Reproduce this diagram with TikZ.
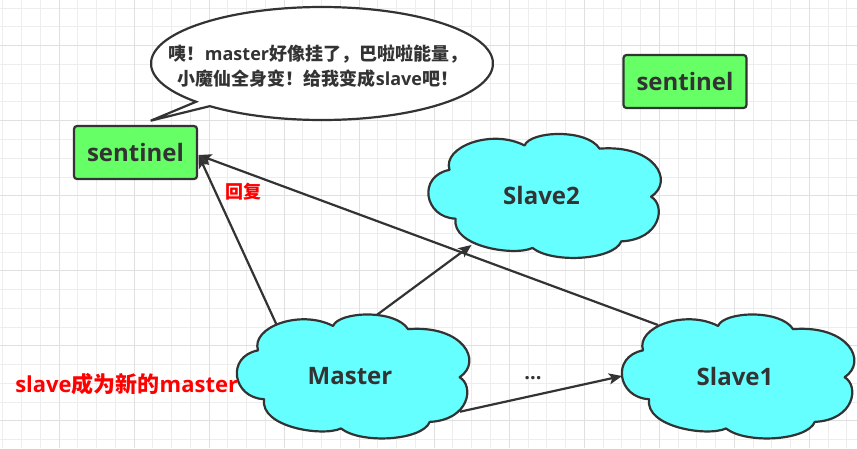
\documentclass[tikz,border=0pt]{standalone}
\usepackage{fontspec}
\setmainfont{Open Sans}
\newfontfamily\cjk{Noto Sans CJK SC}
\usetikzlibrary{calc,arrows.meta,shapes.geometric,backgrounds}
\definecolor{ink}{HTML}{333333}
\definecolor{sgreen}{HTML}{66FF66}
\definecolor{scyan}{HTML}{66FFFF}
\definecolor{gminor}{HTML}{EDEDED}
\definecolor{gmajor}{HTML}{E0E0E0}
\definecolor{lblred}{HTML}{FF0000}
\tikzset{
  sentbox/.style={rectangle, rounded corners=3pt, fill=sgreen, draw=ink, line width=2.2pt,
    minimum width=123pt, minimum height=53pt, inner sep=0pt, outer sep=0pt,
    text=ink, font=\bfseries\fontsize{24}{28}\selectfont},
  cloudnode/.style={ellipse, minimum width=226pt, minimum height=122pt, inner sep=0pt,
    outer sep=0pt, text=ink, font=\bfseries\fontsize{24}{28}\selectfont},
  cloudline/.style={fill=scyan, draw=ink, line width=2.2pt, line join=round},
  bubble/.style={fill=white, draw=ink, line width=2.2pt, line join=miter},
  bubtxt/.style={text=ink, align=center, inner sep=0pt,
    font=\bfseries\fontsize{18}{25}\selectfont},
  conn/.style={draw=ink, line width=2.2pt, -{Stealth[length=13pt,width=11pt,inset=3pt]}},
  redlbl/.style={text=lblred, inner sep=0pt, font=\bfseries},
  dotlbl/.style={text=ink, inner sep=0pt, font=\bfseries\fontsize{20}{24}\selectfont},
  gridminor/.style={draw=gminor, line width=1pt},
  gridmajor/.style={draw=gmajor, line width=1pt}
}
\newcommand\cloudoutline[1]{%
  \begin{scope}[shift={(#1.west |- #1.north)},x=226pt,y=-122pt]
    \draw[cloudline] (.12,.69) .. controls (-.02,.68) and (-.05,.34) .. (.093,.29)
      .. controls (.06,.10) and (.28,-.05) .. (.425,.09)
      .. controls (.45,-.03) and (.70,-.05) .. (.757,.116)
      .. controls (1.0,.08) and (1.09,.38) .. (.985,.51)
      .. controls (1.05,.58) and (1.03,.86) .. (.853,.876)
      .. controls (.82,1.03) and (.55,1.06) .. (.46,.93)
      .. controls (.38,1.0) and (.10,.92) .. (.12,.69) -- cycle;
  \end{scope}}
\begin{document}
\begin{tikzpicture}[x=1pt,y=-1pt]
\useasboundingbox (0,0) rectangle (857,448);

% cloud nodes (text on main layer)
\node[cloudnode] (slave2) at (541.5,195.5) {Slave2};
\node[cloudnode] (master) at (350,376) {Master};
\node[cloudnode] (slave1) at (735,376) {Slave1};

\begin{pgfonlayer}{background}
  \fill[white] (0,0) rectangle (857,448);
  \foreach \i in {0,...,45} {
    \pgfmathsetmacro\gx{2.72+18.76*\i}
    \draw[gridminor] (\gx,0) -- (\gx,448);
  }
  \foreach \i in {0,...,23} {
    \pgfmathsetmacro\gy{8.18+18.76*\i}
    \draw[gridminor] (0,\gy) -- (857,\gy);
  }
  \foreach \i in {0,...,10} {
    \pgfmathsetmacro\gx{59+75.04*\i}
    \draw[gridmajor] (\gx,0) -- (\gx,448);
  }
  \foreach \i in {0,...,5} {
    \pgfmathsetmacro\gy{45.7+75.04*\i}
    \draw[gridmajor] (0,\gy) -- (857,\gy);
  }
  \cloudoutline{slave2}
  \cloudoutline{master}
  \cloudoutline{slave1}
\end{pgfonlayer}

% speech bubble
\coordinate (bc) at (322,63.5);
\coordinate (tip) at (150.7,120.7);
\draw[bubble] (tip) -- ($(bc)+(137.4:171 and 56.5)$)
  arc[start angle=137.4, end angle=491, x radius=171, y radius=56.5] -- cycle;
\node[bubtxt] (say) at (318,66.5)
  {{\cjk 咦！}master{\cjk 好像挂了，巴啦啦能量，}\\{\cjk 小魔仙全身变！给我变成}slave{\cjk 吧！}};

% sentinels
\node[sentbox] (sentL) at (135.5,152.5) {sentinel};
\node[sentbox] (sentR) at (685,81.5) {sentinel};

% connectors
\coordinate (hit) at ($(sentL.east)+(1.5,2.5)$);
\draw[conn] ($(master)+(-73.3,-51)$) -- (hit);
\draw[conn] ($(slave1)+(-77,-51)$) -- (hit);
\draw[conn] ($(master)+(26.7,-61)$) -- ($(slave2)+(-70,49.5)$);
\draw[conn] ($(master)+(110,35.7)$) -- (slave1.west);

% labels
\node[dotlbl] (dots) at (533,378) {...};
\node[redlbl, font=\bfseries\fontsize{18}{22}\selectfont] (reply) at (243,191.5) {\cjk 回复};
\node[redlbl, font=\bfseries\fontsize{22}{26}\selectfont] (newm) at (126.7,384)
  {slave{\cjk 成为新的}master};
\end{tikzpicture}
\end{document}
